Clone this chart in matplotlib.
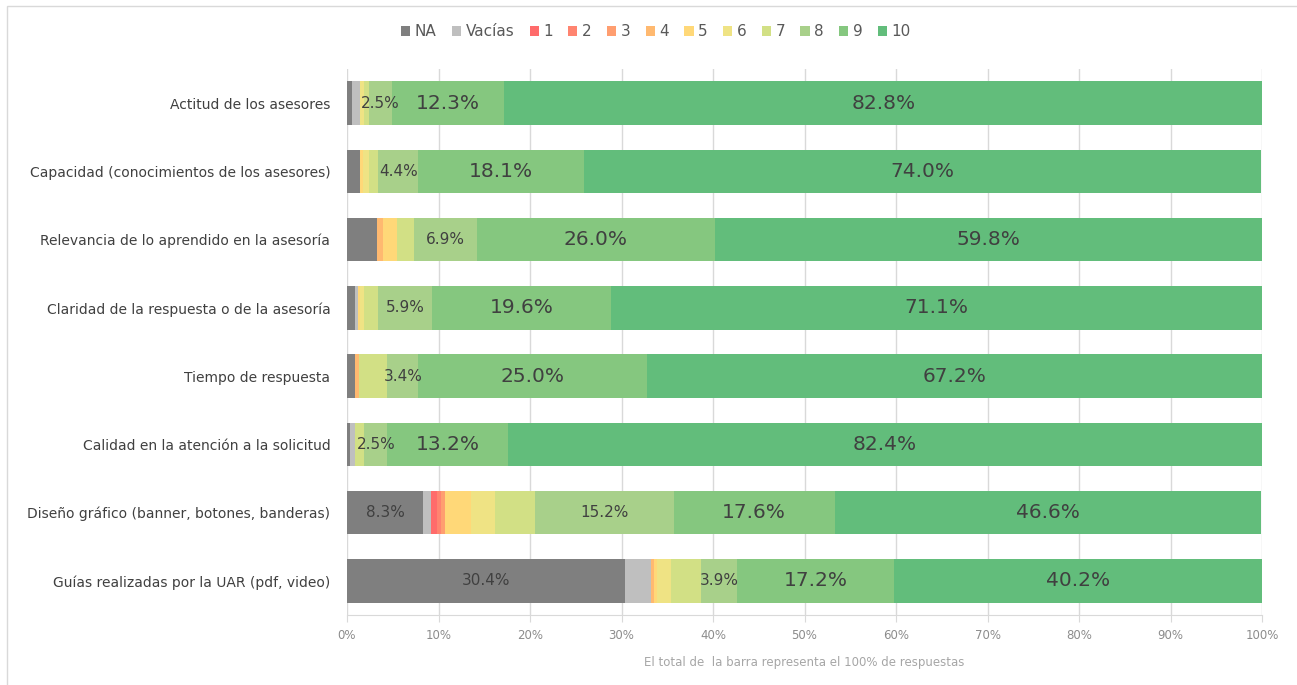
import matplotlib
matplotlib.use('Agg')
import matplotlib.pyplot as plt
import numpy as np

# categories, top to bottom
categories = [
    "Actitud de los asesores",
    "Capacidad (conocimientos de los asesores)",
    "Relevancia de lo aprendido en la asesoría",
    "Claridad de la respuesta o de la asesoría",
    "Tiempo de respuesta",
    "Calidad en la atención a la solicitud",
    "Diseño gráfico (banner, botones, banderas)",
    "Guías realizadas por la UAR (pdf, video)",
]

series = ["NA", "Vacías", "1", "2", "3", "4", "5", "6", "7", "8", "9", "10"]

# percent of answers, one list per series (same order as categories)
na     = [0.5, 1.4, 3.3, 0.9, 0.9, 0.3, 8.3, 30.4]
vacias = [0.9, 0.0, 0.0, 0.3, 0.0, 0.6, 0.9, 2.8]
s1     = [0.0, 0.0, 0.0, 0.0, 0.0, 0.0, 0.6, 0.0]
s2     = [0.0, 0.0, 0.0, 0.0, 0.0, 0.0, 0.5, 0.0]
s3     = [0.0, 0.0, 0.0, 0.0, 0.0, 0.0, 0.4, 0.0]
s4     = [0.0, 0.0, 0.6, 0.0, 0.4, 0.0, 0.0, 0.3]
s5     = [0.0, 0.4, 1.6, 0.2, 0.0, 0.0, 2.9, 0.4]
s6     = [0.5, 0.6, 0.0, 0.5, 0.0, 0.0, 2.6, 1.5]
s7     = [0.5, 1.0, 1.8, 1.5, 3.1, 1.0, 4.3, 3.3]
s8     = [2.5, 4.4, 6.9, 5.9, 3.4, 2.5, 15.2, 3.9]
s9     = [12.3, 18.1, 26.0, 19.6, 25.0, 13.2, 17.6, 17.2]
s10    = [82.8, 74.0, 59.8, 71.1, 67.2, 82.4, 46.6, 40.2]

values = [na, vacias, s1, s2, s3, s4, s5, s6, s7, s8, s9, s10]

colors = ["#7F7F7F", "#BFBFBF", "#FF6B6B", "#FF8470", "#FF9E70", "#FFB970",
          "#FFD878", "#EFE384", "#D2E085", "#A8D08A", "#85C77F", "#62BD7B"]

# which series get value labels, and how big
label_size = {"NA": 11, "8": 11, "9": 14.5, "10": 14.5}
label_min = {"NA": 5.0, "8": 2.0, "9": 2.0, "10": 2.0}

fig = plt.figure(figsize=(12.97, 6.85), dpi=100)
ax = fig.add_axes([347/1297, (685-615)/685, (1262-347)/1297, (615-69)/685])

y = np.arange(len(categories))
left = np.zeros(len(categories))
for name, vals, col in zip(series, values, colors):
    vals = np.array(vals)
    ax.barh(y, vals, left=left, height=0.64, color=col, label=name, zorder=3)
    if name in label_size:
        for i, v in enumerate(vals):
            if v >= label_min[name]:
                ax.text(left[i] + v/2, y[i], f"{v:.1f}%", ha='center', va='center',
                        fontsize=label_size[name], color="#404040", zorder=4)
    left += vals

ax.set_ylim(len(categories) - 0.5, -0.5)
ax.set_xlim(0, 100)
ax.set_xticks(np.arange(0, 101, 10))
ax.set_xticklabels([f"{t}%" for t in range(0, 101, 10)])
ax.set_yticks(y)
ax.set_yticklabels(categories)

ax.grid(axis='x', color="#D9D9D9", linewidth=1, zorder=0)
for s in ['top', 'right', 'left']:
    ax.spines[s].set_visible(False)
ax.spines['bottom'].set_color("#D9D9D9")
ax.tick_params(axis='x', colors="#D9D9D9", length=5, labelcolor="#8C8C8C", labelsize=8.5, pad=5)
ax.tick_params(axis='y', length=0, labelcolor="#404040", labelsize=10, pad=12)

ax.set_xlabel("El total de  la barra representa el 100% de respuestas",
              color="#A6A6A6", fontsize=8.5, labelpad=10)

fig.legend(loc='center', bbox_to_anchor=(656/1297, 1 - 32/685), ncol=12,
           frameon=False, fontsize=11, handlelength=0.6, handleheight=0.6,
           handletextpad=0.3, columnspacing=1.0, labelcolor="#595959")

# light frame round the chart
fig.patches.append(plt.Rectangle((7/1297, -0.01), 1.0, 1 - 6/685 + 0.01,
                                 transform=fig.transFigure, fill=False,
                                 edgecolor="#D9D9D9", linewidth=1))

fig.savefig("out.png", dpi=100)
